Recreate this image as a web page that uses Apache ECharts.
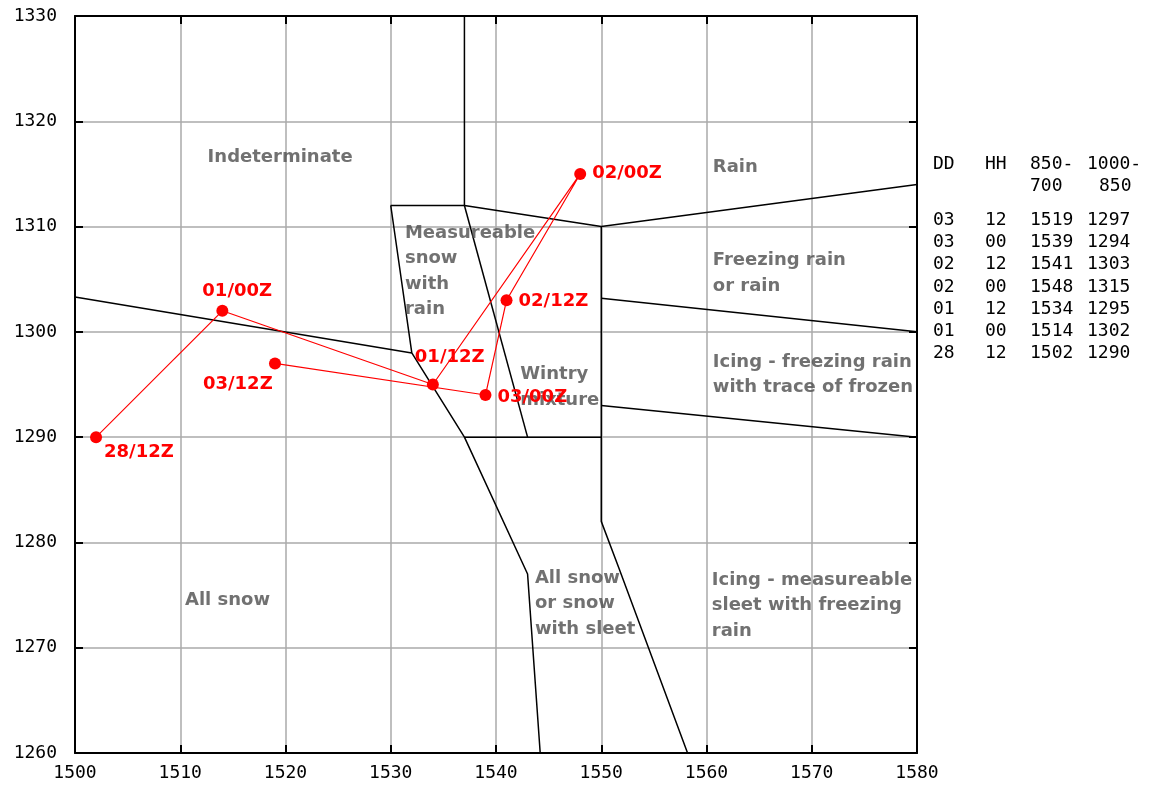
<!DOCTYPE html>
<html>
<head>
<meta charset="utf-8">
<script src="https://cdn.jsdelivr.net/npm/echarts@6/dist/echarts.min.js"></script>
<style>html,body{margin:0;padding:0;background:#fff;}#c{width:1164px;height:785px;}</style>
</head>
<body>
<div id="c"></div>
<script>
// ---- data ----
const dayLabels = ['28', '01', '01', '02', '02', '03', '03'];
const hourLabels = ['12', '00', '12', '00', '12', '00', '12'];
const thick850_700 = [1502, 1514, 1534, 1548, 1541, 1539, 1519];
const thick1000_850 = [1290, 1302, 1295, 1315, 1303, 1294, 1297];

const xTicks = [1500, 1510, 1520, 1530, 1540, 1550, 1560, 1570, 1580];
const yTicks = [1260, 1270, 1280, 1290, 1300, 1310, 1320, 1330];

// zone boundaries (850-700 thickness, 1000-850 thickness)
const boundaries = [
  [[1500, 1303.3], [1532, 1298]],
  [[1537, 1330], [1537, 1312]],
  [[1530, 1312], [1537, 1312], [1550, 1310], [1580, 1314]],
  [[1530, 1312], [1532, 1298], [1537, 1290], [1543, 1277], [1544.2, 1260]],
  [[1537, 1312], [1543, 1290]],
  [[1537, 1290], [1550, 1290]],
  [[1550, 1310], [1550, 1282], [1551.7, 1277.5], [1558.2, 1260]],
  [[1550, 1303.2], [1580, 1300]],
  [[1550, 1293], [1580, 1290]]
];

const zoneNames = [
  'Indeterminate', 'Rain', 'Measureable\nsnow\nwith\nrain', 'Freezing rain\nor rain',
  'Wintry\nmixture', 'Icing - freezing rain\nwith trace of frozen', 'All snow',
  'All snow\nor snow\nwith sleet', 'Icing - measureable\nsleet with freezing\nrain'
];
const zoneAnchors = [
  [1512.6, 1316.6], [1560.6, 1315.66], [1531.35, 1305.74], [1560.6, 1305.55],
  [1542.3, 1294.72], [1560.6, 1295.9], [1510.45, 1274.54], [1543.7, 1274.2], [1560.5, 1274.0]
];

// label offsets (layout only)
const labelOffsets = [[8, 15], [-20, -19], [-18, -27], [12, -1], [12, 1], [12, 2], [-72, 21]];

const pointLabels = dayLabels.map((d, i) => d + '/' + hourLabels[i] + 'Z');
const trackData = thick850_700.map((x, i) => ({
  value: [x, thick1000_850[i]],
  label: { offset: labelOffsets[i] }
}));

const sans = '"DejaVu Sans", Verdana, sans-serif';
const series = [];
boundaries.forEach(b => series.push({
  type: 'line', data: b, symbol: 'none', silent: true, z: 3,
  lineStyle: { color: '#000', width: 1.5 }, animation: false
}));
series.push({
  type: 'scatter', silent: true, z: 4, symbolSize: 0, animation: false,
  data: zoneAnchors.map((a, i) => ({ value: a, name: zoneNames[i] })),
  label: {
    show: true, position: 'inside', align: 'left', verticalAlign: 'middle',
    formatter: p => p.name, color: '#4d4d4d', fontFamily: sans,
    fontWeight: 'bold', fontSize: 18, lineHeight: 25.5
  }
});
series.push({
  type: 'line', data: trackData, symbol: 'circle', symbolSize: 12, z: 5, animation: false,
  lineStyle: { color: '#ff0000', width: 1.2 }, itemStyle: { color: '#ff0000' },
  label: {
    show: true, position: 'inside', align: 'left', verticalAlign: 'middle',
    formatter: p => pointLabels[p.dataIndex], color: '#ff0000',
    fontFamily: sans, fontWeight: 'bold', fontSize: 18
  }
});

// table on the right
const mono = '"DejaVu Sans Mono", "Liberation Mono", monospace';
const tblCols = [933, 985, 1030, 1087];
const graphics = [];
function txt(x, y, s) {
  graphics.push({ type: 'text', left: x, top: y - 10, style: { text: s, font: '18px ' + mono, fill: '#000' } });
}
txt(tblCols[0], 165, 'DD'); txt(tblCols[1], 165, 'HH'); txt(tblCols[2], 165, '850-'); txt(tblCols[3], 165, '1000-');
txt(tblCols[2], 187, '700'); txt(tblCols[3] + 12, 187, '850');
const order = thick850_700.map((_, i) => i).reverse();
order.forEach((i, r) => {
  const y = 221 + r * 22.3;
  txt(tblCols[0], y, dayLabels[i]);
  txt(tblCols[1], y, hourLabels[i]);
  txt(tblCols[2], y, String(thick850_700[i]));
  txt(tblCols[3], y, String(thick1000_850[i]));
});

const axisFont = { fontFamily: mono, fontSize: 18, color: '#000' };
const chart = echarts.init(document.getElementById('c'));
chart.setOption({
  animation: false,
  backgroundColor: '#fff',
  grid: { left: 75, top: 16, right: 247, bottom: 32, show: false },
  xAxis: [
    { type: 'value', min: 1500, max: 1580, interval: 10, position: 'bottom',
      axisLine: { show: true, lineStyle: { color: '#000', width: 2 } },
      axisTick: { show: true, inside: true, length: 8, lineStyle: { color: '#000', width: 2 } },
      axisLabel: Object.assign({ margin: 11, formatter: v => xTicks.includes(v) ? String(v) : '' }, axisFont),
      splitLine: { show: true, lineStyle: { color: '#aaaaaa', width: 1.5 } } },
    { type: 'value', min: 1500, max: 1580, interval: 10, position: 'top',
      axisLine: { show: true, onZero: false, lineStyle: { color: '#000', width: 2 } },
      axisTick: { show: true, inside: true, length: 8, lineStyle: { color: '#000', width: 2 } },
      axisLabel: { show: false }, splitLine: { show: false } }
  ],
  yAxis: [
    { type: 'value', min: 1260, max: 1330, interval: 10, position: 'left',
      axisLine: { show: true, onZero: false, lineStyle: { color: '#000', width: 2 } },
      axisTick: { show: true, inside: true, length: 8, lineStyle: { color: '#000', width: 2 } },
      axisLabel: Object.assign({ margin: 18, formatter: v => yTicks.includes(v) ? String(v) : '' }, axisFont),
      splitLine: { show: true, lineStyle: { color: '#aaaaaa', width: 1.5 } } },
    { type: 'value', min: 1260, max: 1330, interval: 10, position: 'right',
      axisLine: { show: true, onZero: false, lineStyle: { color: '#000', width: 2 } },
      axisTick: { show: true, inside: true, length: 8, lineStyle: { color: '#000', width: 2 } },
      axisLabel: { show: false }, splitLine: { show: false } }
  ],
  series: series,
  graphic: graphics
});
</script>
</body>
</html>
